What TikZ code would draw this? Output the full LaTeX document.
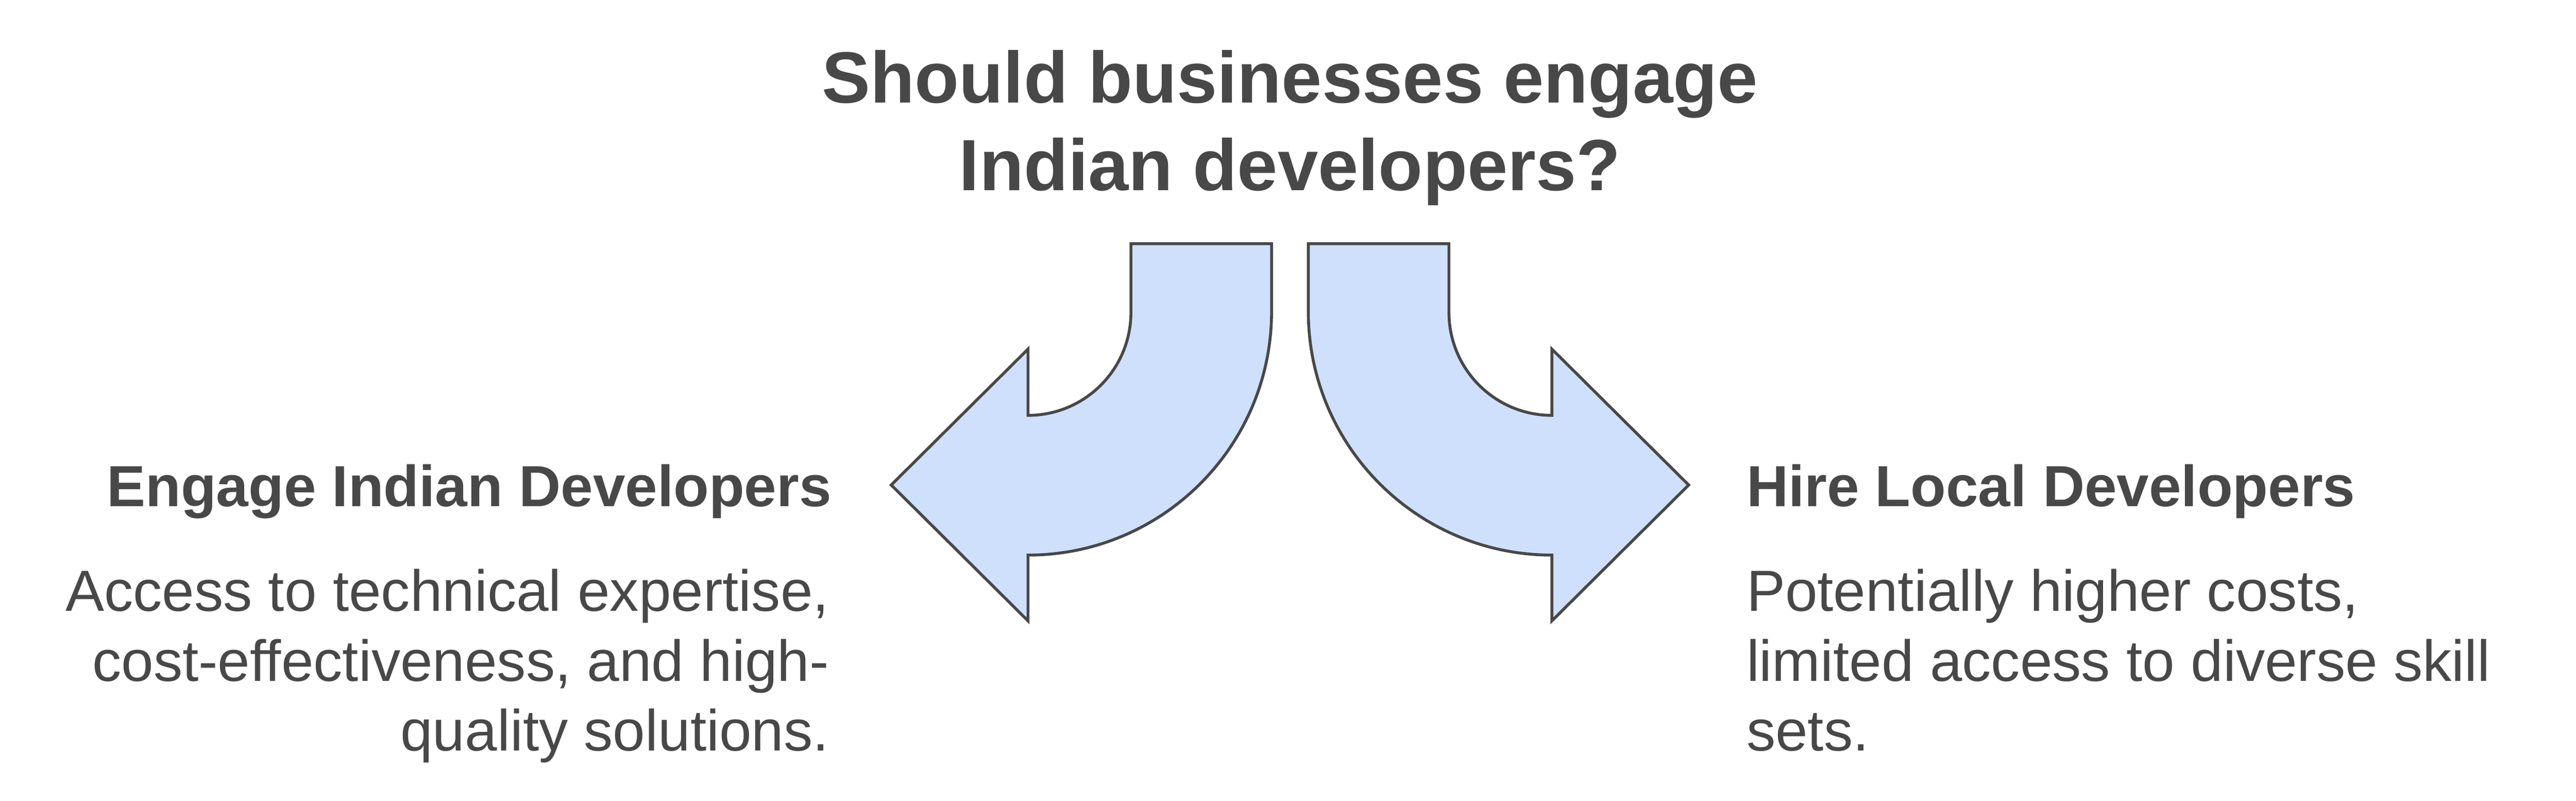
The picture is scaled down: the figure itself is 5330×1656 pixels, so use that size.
\documentclass[tikz,border=0pt]{standalone}
\usepackage{fontspec}
\setmainfont{Liberation Sans}
\definecolor{inkgray}{RGB}{72,72,72}
\definecolor{arrowblue}{RGB}{207,224,253}
\tikzset{
	arrowshape/.style={draw=inkgray,fill=arrowblue,line width=0.06cm,line join=miter},
	titletext/.style={inner sep=0,text=inkgray,font=\bfseries\fontsize{42.7}{51.5}\selectfont,align=center},
	headtext/.style={inner sep=0,text=inkgray,font=\bfseries\fontsize{34.1}{41.1}\selectfont},
	bodytext/.style={inner sep=0,text=inkgray,font=\fontsize{34.1}{41.1}\selectfont}
}
\begin{document}
\begin{tikzpicture}[x=0.01cm,y=0.01cm]
	\useasboundingbox (0,0) rectangle (5330,1656);
	\path (2340,1152) coordinate (LA)
	++ (291,0) coordinate (LB)
	++ (0,-140) coordinate (LC)
	+ (-504,0) coordinate (LO)
	++ (-504,-504) coordinate (LD)
	++ (0,-136) coordinate (LE)
	++ (-283,281) coordinate (LF)
	++ (283,281) coordinate (LG)
	++ (0,-137) coordinate (LH);
	\path (2998,1152) coordinate (RA)
	++ (-291,0) coordinate (RB)
	++ (0,-140) coordinate (RC)
	++ (504,-504) coordinate (RD)
	++ (0,-136) coordinate (RE)
	++ (283,281) coordinate (RF)
	++ (-283,281) coordinate (RG)
	++ (0,-137) coordinate (RH);
	\draw[arrowshape] (LA) -- (LB) -- (LC) arc[start angle=0,end angle=-90,radius=504]
		-- (LE) -- (LF) -- (LG) -- (LH) arc[start angle=-90,end angle=0,radius=213] -- cycle;
	\draw[arrowshape] (RA) -- (RB) -- (RC) arc[start angle=180,end angle=270,radius=504]
		-- (RE) -- (RF) -- (RG) -- (RH) arc[start angle=270,end angle=180,radius=213] -- cycle;
	\node[titletext,anchor=base] (question) at (2669,1262) {Should businesses engage\\Indian developers?};
	\node[headtext,anchor=base east] (engage) at (1721,609) {Engage Indian Developers};
	\node[bodytext,anchor=base east,align=right] (engagenote) at (1716,103) {Access to technical expertise,\\cost-effectiveness, and high-\\quality solutions.};
	\node[headtext,anchor=base west] (local) at (3613,609) {Hire Local Developers};
	\node[bodytext,anchor=base west,align=left] (localnote) at (3613,103) {Potentially higher costs,\\limited access to diverse skill\\sets.};
\end{tikzpicture}
\end{document}
